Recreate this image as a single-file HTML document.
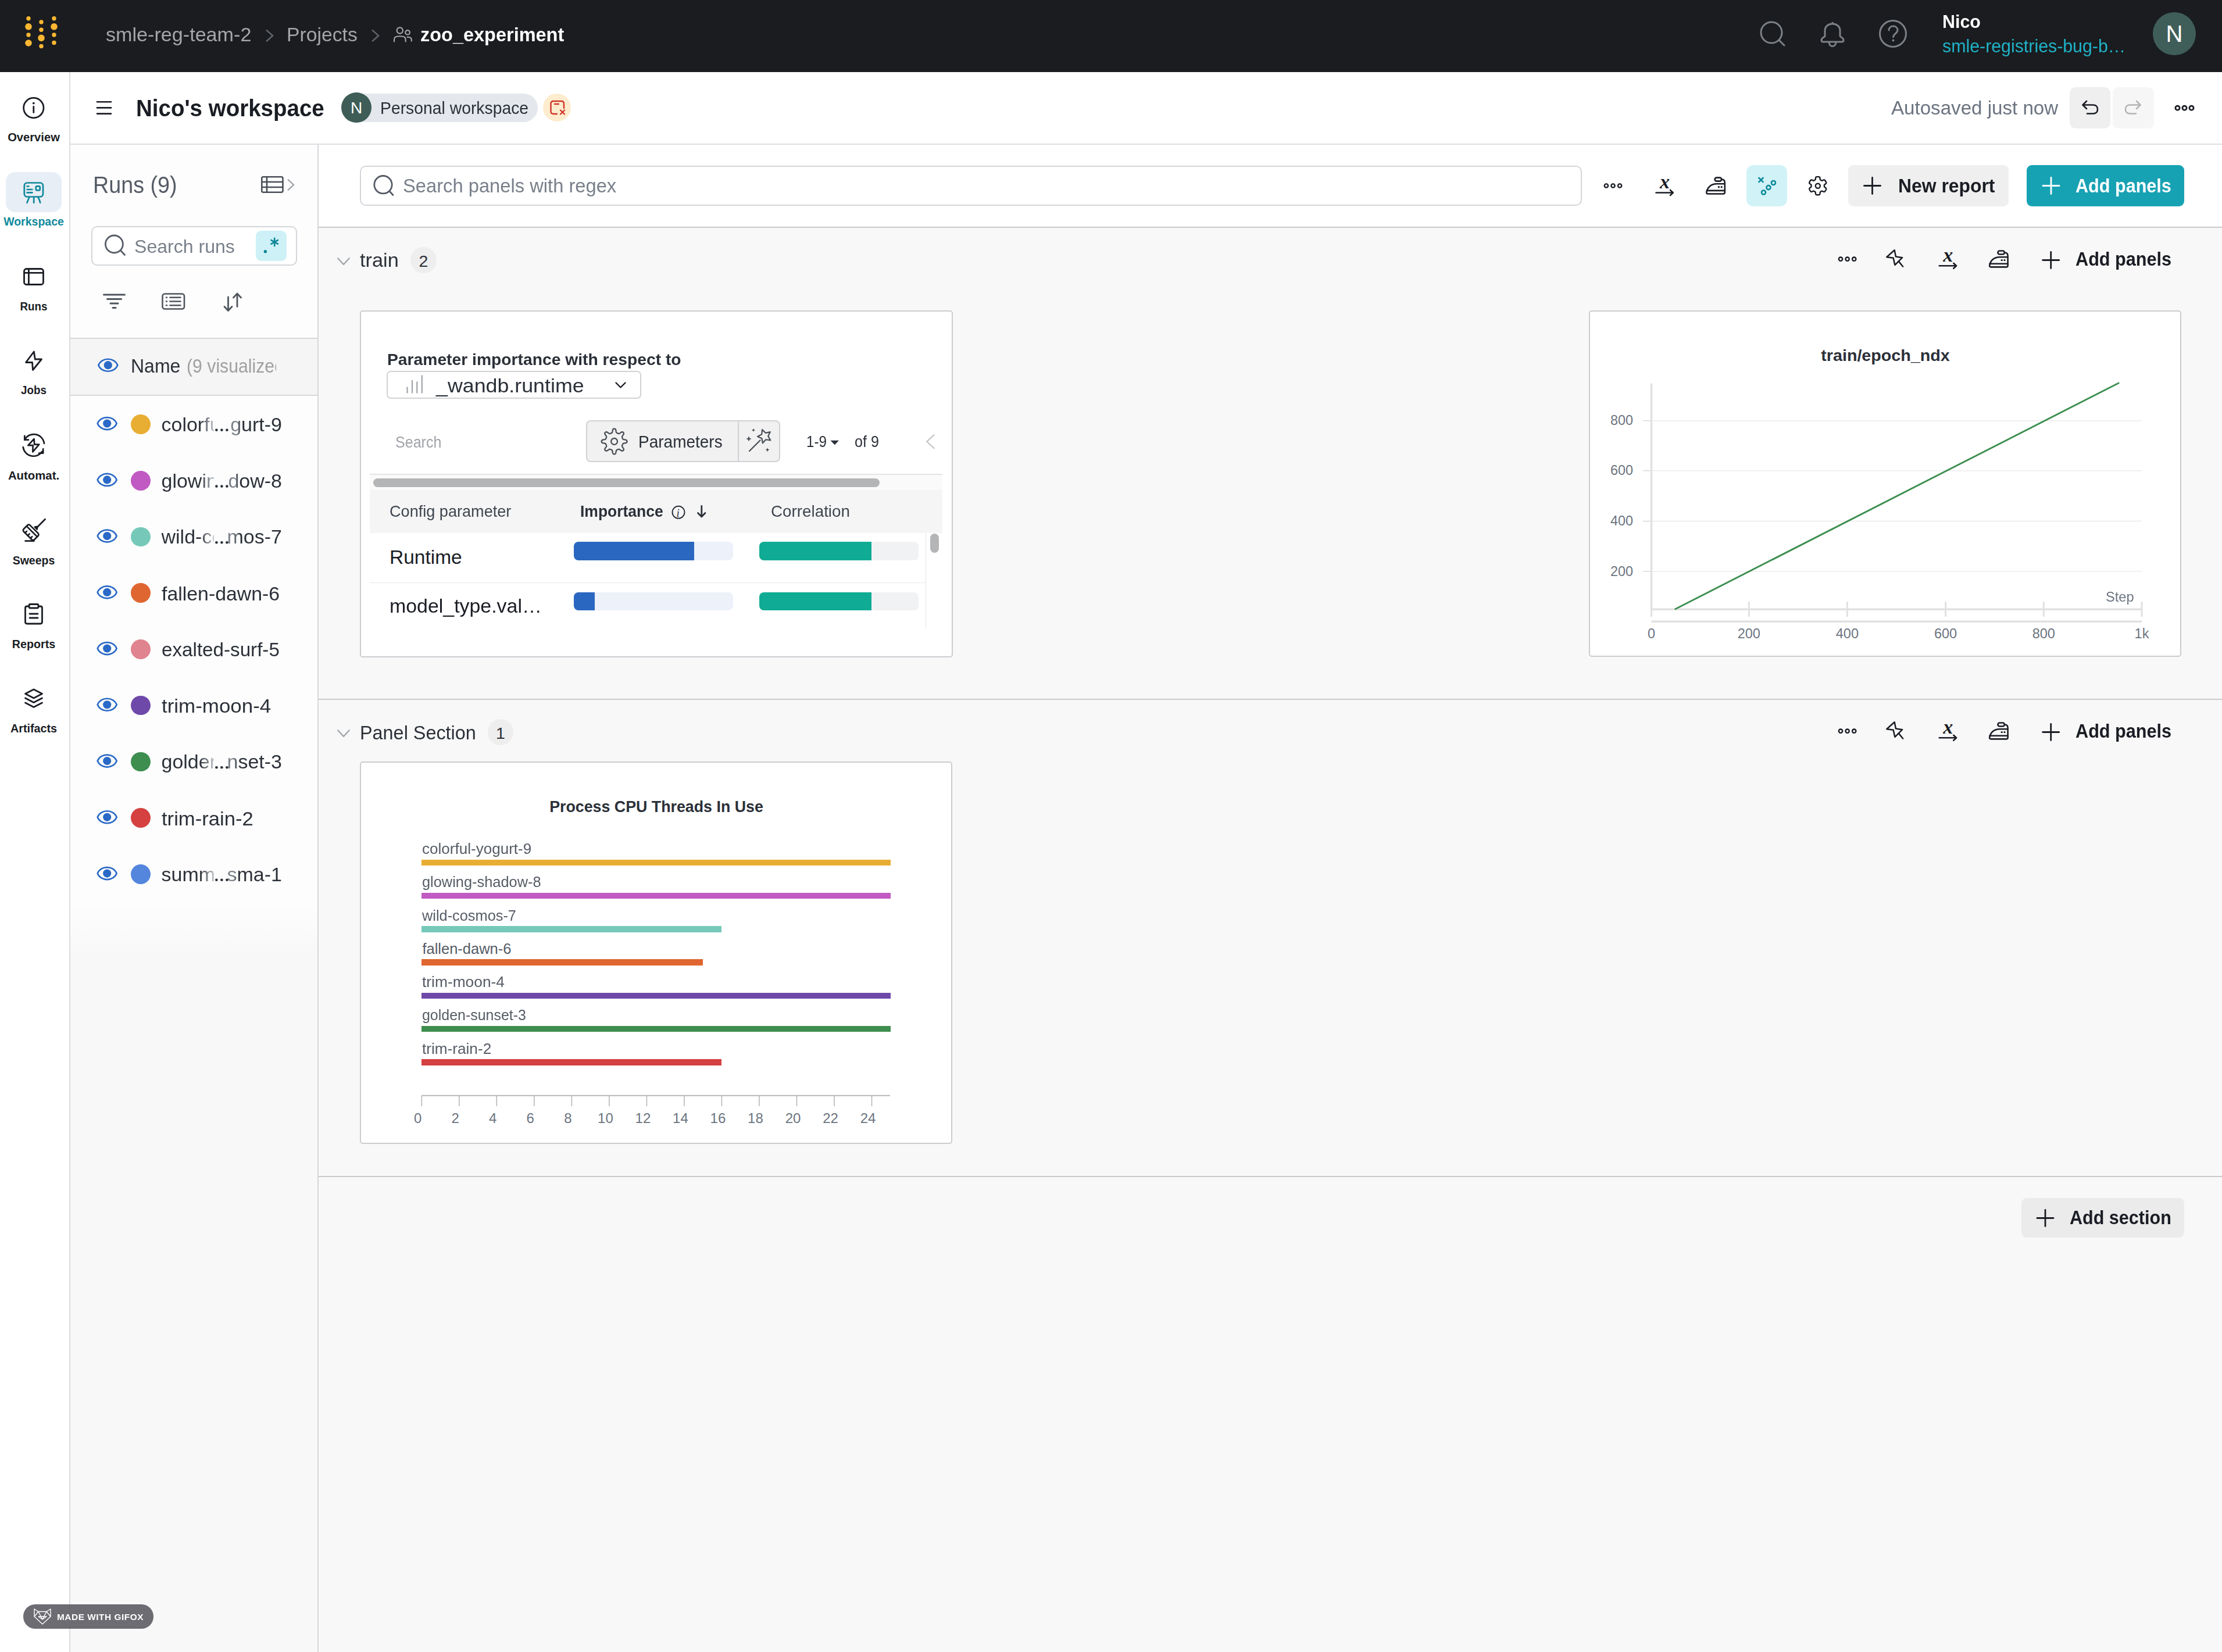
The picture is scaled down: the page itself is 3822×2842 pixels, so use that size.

<!DOCTYPE html>
<html><head><meta charset="utf-8"><title>Nico's workspace</title>
<style>
html,body{margin:0;padding:0;}
body{width:3822px;height:2842px;position:relative;overflow:hidden;background:#fdfdfd;font-family:"Liberation Sans", sans-serif;}
.r{position:absolute;display:block;}
.t{position:absolute;white-space:nowrap;display:block;}
svg.r{overflow:visible;}
</style></head><body>
<div class="r" style="left:0.0px;top:0.0px;width:3822.0px;height:124.0px;background:#1a1c1f;border-radius:0.0px;"></div>
<div class="r" style="left:0.0px;top:124.0px;width:3822.0px;height:2718.0px;background:#fdfdfd;border-radius:0.0px;"></div>
<div class="r" style="left:548.0px;top:249.0px;width:3274.0px;height:141.0px;background:#ffffff;border-radius:0.0px;"></div>
<div class="r" style="left:0.0px;top:124.0px;width:120.0px;height:2718.0px;background:#ffffff;border-radius:0.0px;"></div>
<div class="r" style="left:121.0px;top:124.0px;width:3701.0px;height:124.0px;background:#ffffff;border-radius:0.0px;"></div>
<div class="r" style="left:548.0px;top:392.0px;width:3274.0px;height:2450.0px;background:#f8f8f8;border-radius:0.0px;"></div>
<div class="r" style="left:121.0px;top:1560.0px;width:426.0px;height:1282.0px;background:linear-gradient(#fdfdfd 0px, #f8f8f8 80px);border-radius:0.0px;"></div>
<div class="r" style="left:119.3px;top:124.0px;width:2.0px;height:2718.0px;background:#dcdee2;border-radius:0.0px;"></div>
<div class="r" style="left:121.0px;top:247.0px;width:3701.0px;height:2.0px;background:#dcdee2;border-radius:0.0px;"></div>
<div class="r" style="left:546.0px;top:249.0px;width:2.0px;height:2593.0px;background:#d5d7da;border-radius:0.0px;"></div>
<div class="r" style="left:548.0px;top:390.0px;width:3274.0px;height:2.0px;background:#c9cacc;border-radius:0.0px;"></div>
<div class="r" style="left:548.0px;top:1202.0px;width:3274.0px;height:2.0px;background:#c9cacc;border-radius:0.0px;"></div>
<div class="r" style="left:548.0px;top:2022.5px;width:3274.0px;height:2.0px;background:#c9cacc;border-radius:0.0px;"></div>
<svg class="r" style="left:30.0px;top:20.0px;" width="80.0" height="70.0" viewBox="30.00 20.00 80.00 70.00"><circle cx="49.0" cy="31.8" r="3.7" fill="#fbb731"/><circle cx="49.0" cy="45.8" r="5.8" fill="#fbb731"/><circle cx="49.0" cy="60.0" r="3.7" fill="#fbb731"/><circle cx="49.0" cy="74.0" r="5.8" fill="#fbb731"/><circle cx="71.0" cy="38.0" r="3.7" fill="#fbb731"/><circle cx="71.0" cy="51.2" r="3.7" fill="#fbb731"/><circle cx="71.0" cy="65.4" r="5.8" fill="#fbb731"/><circle cx="71.0" cy="79.5" r="3.7" fill="#fbb731"/><circle cx="93.0" cy="31.8" r="3.7" fill="#fbb731"/><circle cx="93.0" cy="45.8" r="5.8" fill="#fbb731"/><circle cx="93.0" cy="60.0" r="3.7" fill="#fbb731"/><circle cx="93.0" cy="73.5" r="3.7" fill="#fbb731"/></svg>
<span id="t1" class="t" style="left:182.0px;top:41.6px;font-size:34.0px;line-height:34.0px;color:#a4a6a9;font-weight:400;transform:scaleX(1.0040);transform-origin:left;">smle-reg-team-2</span>
<svg class="r" style="left:452.0px;top:46.0px;" width="24.0" height="30.0" viewBox="452.00 46.00 24.00 30.00"><polyline points="458,51.5 469,61.4 458,71.3" fill="none" stroke="#5f6368" stroke-width="2.6"/></svg>
<span id="t2" class="t" style="left:493.0px;top:41.6px;font-size:34.0px;line-height:34.0px;color:#a4a6a9;font-weight:400;transform:scaleX(0.9919);transform-origin:left;">Projects</span>
<svg class="r" style="left:634.0px;top:46.0px;" width="24.0" height="30.0" viewBox="634.00 46.00 24.00 30.00"><polyline points="640,51.5 651,61.4 640,71.3" fill="none" stroke="#5f6368" stroke-width="2.6"/></svg>
<svg class="r" style="left:672.0px;top:42.0px;" width="42.0" height="34.0" viewBox="672.00 42.00 42.00 34.00"><g fill="none" stroke="#a4a6a9" stroke-width="2.2" stroke-linecap="round"><circle cx="687.8" cy="52.5" r="5.1"/><path d="M678 71.5 L678 68.5 C678 64.5 680.5 62.5 684.5 62.5 L691 62.5 C695 62.5 697.7 64.5 697.7 68.5 L697.7 71.5"/><circle cx="701.1" cy="55.9" r="3.8"/><path d="M700.5 64 L703 64 C706 64 707.8 66 707.8 69 L707.8 70.5"/></g></svg>
<span id="t3" class="t" style="left:722.6px;top:42.5px;font-size:33.0px;line-height:33.0px;color:#ffffff;font-weight:700;transform:scaleX(0.9841);transform-origin:left;">zoo_experiment</span>
<svg class="r" style="left:3020.0px;top:30.0px;" width="60.0" height="60.0" viewBox="3020.00 30.00 60.00 60.00"><g fill="none" stroke="#7d8187" stroke-width="3" stroke-linecap="round"><circle cx="3047" cy="56" r="18"/><line x1="3060" y1="69" x2="3069" y2="78"/></g></svg>
<svg class="r" style="left:3125.0px;top:30.0px;" width="55.0" height="60.0" viewBox="3125.00 30.00 55.00 60.00"><g fill="none" stroke="#7d8187" stroke-width="3" stroke-linejoin="round"><path d="M3152 38 L3152 41 M3139 62 L3139 53 C3139 45 3145 41 3152 41 C3159 41 3165 45 3165 53 L3165 62 C3165 64 3171 64.5 3171 69 C3171 71 3170 72 3168 72 L3136 72 C3134 72 3133 71 3133 69 C3133 64.5 3139 64 3139 62 Z"/><path d="M3146 72 C3146 77 3149 79.5 3152 79.5 C3155 79.5 3158 77 3158 72"/></g></svg>
<svg class="r" style="left:3230.0px;top:32.0px;" width="55.0" height="55.0" viewBox="3230.00 32.00 55.00 55.00"><g fill="none" stroke="#7d8187" stroke-width="3" stroke-linecap="round"><circle cx="3256" cy="58" r="22.5"/><path d="M3249 52 C3249 47.5 3252.5 45 3256.5 45 C3261 45 3264 48 3264 52 C3264 57 3257 58 3256.5 63.5"/></g><circle cx="3256.5" cy="69.5" r="2" fill="#7d8187"/></svg>
<span id="t4" class="t" style="left:3341.0px;top:20.9px;font-size:32.0px;line-height:32.0px;color:#ffffff;font-weight:700;transform:scaleX(0.9493);transform-origin:left;">Nico</span>
<span id="t5" class="t" style="left:3341.0px;top:64.3px;font-size:31.0px;line-height:31.0px;color:#1fb3c8;font-weight:400;transform:scaleX(0.9783);transform-origin:left;">smle-registries-bug-b…</span>
<div class="r" style="left:3702.7px;top:20.7px;width:74.6px;height:74.6px;background:#405e59;border-radius:50%;"></div>
<span id="t6" class="t" style="left:3740.0px;top:38.1px;font-size:40.0px;line-height:40.0px;color:#ffffff;font-weight:400;transform:translateX(-50%) scaleX(1.0000);transform-origin:center;">N</span>
<svg class="r" style="left:160.0px;top:168.0px;" width="36.0" height="34.0" viewBox="160.00 168.00 36.00 34.00"><g stroke="#1a1d24" stroke-width="2.6" stroke-linecap="round"><line x1="167" y1="175.2" x2="191" y2="175.2"/><line x1="167" y1="185.4" x2="191" y2="185.4"/><line x1="167" y1="195.6" x2="191" y2="195.6"/></g></svg>
<span id="t7" class="t" style="left:234.4px;top:166.1px;font-size:41.0px;line-height:41.0px;color:#1a1d24;font-weight:700;transform:scaleX(0.9391);transform-origin:left;">Nico's workspace</span>
<div class="r" style="left:613.0px;top:161.0px;width:312.0px;height:49.0px;background:#e4e7eb;border-radius:0 24.5px 24.5px 0;"></div>
<div class="r" style="left:587.0px;top:159.4px;width:52.0px;height:52.0px;background:#3e5d57;border-radius:50%;"></div>
<span id="t8" class="t" style="left:613.0px;top:172.3px;font-size:28.0px;line-height:28.0px;color:#ffffff;font-weight:400;transform:translateX(-50%) scaleX(1.0000);transform-origin:center;">N</span>
<span id="t9" class="t" style="left:654.0px;top:172.1px;font-size:29.0px;line-height:29.0px;color:#2b3038;font-weight:400;transform:scaleX(0.9770);transform-origin:left;">Personal workspace</span>
<div class="r" style="left:934.0px;top:161.4px;width:48.0px;height:48.0px;background:#fdeccd;border-radius:50%;"></div>
<svg class="r" style="left:940.0px;top:168.0px;" width="36.0" height="34.0" viewBox="940.00 168.00 36.00 34.00"><g fill="none" stroke="#d0342c" stroke-width="2.4" stroke-linecap="round"><path d="M958 196 L952 196 C949 196 947.5 194.5 947.5 191.5 L947.5 178.5 C947.5 175.5 949 174 952 174 L965.5 174 C968.5 174 970 175.5 970 178.5 L970 186"/><line x1="954" y1="179" x2="961" y2="179"/><line x1="964" y1="189.5" x2="971" y2="196.5"/><line x1="971" y1="189.5" x2="964" y2="196.5"/></g></svg>
<span id="t10" class="t" style="left:3253.4px;top:168.6px;font-size:33.0px;line-height:33.0px;color:#6b7480;font-weight:400;transform:scaleX(1.0035);transform-origin:left;">Autosaved just now</span>
<div class="r" style="left:3560.0px;top:150.0px;width:70.0px;height:70.5px;background:#efefef;border-radius:10.0px;"></div>
<div class="r" style="left:3634.0px;top:150.0px;width:71.0px;height:70.5px;background:#f6f6f6;border-radius:10.0px;"></div>
<svg class="r" style="left:3575.0px;top:165.0px;" width="40.0" height="40.0" viewBox="3575.00 165.00 40.00 40.00"><g transform="translate(-4,0)" fill="none" stroke="#1a1d24" stroke-width="2.6" stroke-linecap="round" stroke-linejoin="round"><path d="M3587 180.5 L3604 180.5 C3609 180.5 3612 183.5 3612 188 C3612 192.5 3609 195.5 3604 195.5 L3594 195.5"/><polyline points="3593,174 3586.5,180.5 3593,187"/></g></svg>
<svg class="r" style="left:3650.0px;top:165.0px;" width="40.0" height="40.0" viewBox="3650.00 165.00 40.00 40.00"><g fill="none" stroke="#b4b4b4" stroke-width="2.6" stroke-linecap="round" stroke-linejoin="round"><path d="M3681 180.5 L3664 180.5 C3659 180.5 3656 183.5 3656 188 C3656 192.5 3659 195.5 3664 195.5 L3674 195.5"/><polyline points="3675,174 3681.5,180.5 3675,187"/></g></svg>
<svg class="r" style="left:3735.0px;top:176.0px;" width="45.0" height="20.0" viewBox="3735.00 176.00 45.00 20.00"><g fill="none" stroke="#1a1d24" stroke-width="2.8"><circle cx="3745.5" cy="185.8" r="3.6"/><circle cx="3757.5" cy="185.8" r="3.6"/><circle cx="3769.5" cy="185.8" r="3.6"/></g></svg>
<div class="r" style="left:10.0px;top:296.0px;width:96.0px;height:69.0px;background:#e8eef6;border-radius:16.0px;"></div>
<span id="t11" class="t" style="left:57.8px;top:225.6px;font-size:20.5px;line-height:20.5px;color:#1a1d24;font-weight:700;transform:translateX(-50%) scaleX(0.9835);transform-origin:center;">Overview</span>
<span id="t12" class="t" style="left:57.8px;top:371.4px;font-size:20.5px;line-height:20.5px;color:#10899b;font-weight:700;transform:translateX(-50%) scaleX(0.9514);transform-origin:center;">Workspace</span>
<span id="t13" class="t" style="left:57.8px;top:516.6px;font-size:20.5px;line-height:20.5px;color:#1a1d24;font-weight:700;transform:translateX(-50%) scaleX(0.9137);transform-origin:center;">Runs</span>
<span id="t14" class="t" style="left:57.8px;top:661.3px;font-size:20.5px;line-height:20.5px;color:#1a1d24;font-weight:700;transform:translateX(-50%) scaleX(0.9167);transform-origin:center;">Jobs</span>
<span id="t15" class="t" style="left:57.8px;top:808.2px;font-size:20.5px;line-height:20.5px;color:#1a1d24;font-weight:700;transform:translateX(-50%) scaleX(0.9933);transform-origin:center;">Automat.</span>
<span id="t16" class="t" style="left:57.8px;top:953.6px;font-size:20.5px;line-height:20.5px;color:#1a1d24;font-weight:700;transform:translateX(-50%) scaleX(0.9526);transform-origin:center;">Sweeps</span>
<span id="t17" class="t" style="left:57.8px;top:1098.0px;font-size:20.5px;line-height:20.5px;color:#1a1d24;font-weight:700;transform:translateX(-50%) scaleX(0.9610);transform-origin:center;">Reports</span>
<span id="t18" class="t" style="left:57.8px;top:1242.6px;font-size:20.5px;line-height:20.5px;color:#1a1d24;font-weight:700;transform:translateX(-50%) scaleX(0.9639);transform-origin:center;">Artifacts</span>
<svg class="r" style="left:36.0px;top:164.0px;" width="44.0" height="44.0" viewBox="36.00 164.00 44.00 44.00"><g fill="none" stroke="#1a1d24" stroke-width="2.8" stroke-linecap="round"><circle cx="57.8" cy="185.6" r="17.2"/><line x1="57.8" y1="183.5" x2="57.8" y2="193.5"/></g><circle cx="57.8" cy="177.6" r="1.9" fill="#1a1d24"/></svg>
<svg class="r" style="left:36.0px;top:309.0px;" width="44.0" height="44.0" viewBox="36.00 309.00 44.00 44.00"><g fill="none" stroke="#10899b" stroke-width="2.7" stroke-linecap="round" stroke-linejoin="round"><rect x="41.8" y="314.5" width="32.2" height="24" rx="5"/><line x1="46.6" y1="320.5" x2="49.4" y2="320.5"/><line x1="46.6" y1="326" x2="55.4" y2="326"/><line x1="46.6" y1="331.4" x2="55.4" y2="331.4"/><rect x="61.8" y="320.4" width="6.9" height="6.9" rx="1.6"/><line x1="50.3" y1="339.5" x2="46.4" y2="348.8"/><line x1="58.2" y1="339.5" x2="58.2" y2="348.8"/><path d="M65.6 339.5 C67 342 68.6 345 69.2 348.8"/></g></svg>
<svg class="r" style="left:36.0px;top:456.0px;" width="44.0" height="40.0" viewBox="36.00 456.00 44.00 40.00"><g fill="none" stroke="#1a1d24" stroke-width="2.8" stroke-linejoin="round"><rect x="41.5" y="462.5" width="33" height="27" rx="4"/><line x1="41.5" y1="469.4" x2="74.5" y2="469.4"/><line x1="49.4" y1="462.5" x2="49.4" y2="489.5"/></g></svg>
<svg class="r" style="left:38.0px;top:600.0px;" width="40.0" height="42.0" viewBox="38.00 600.00 40.00 42.00"><path d="M58.4 605 L44.5 623.5 L55.5 623.5 L56.5 636.5 L71.5 618 L60.3 618 Z" fill="none" stroke="#1a1d24" stroke-width="2.8" stroke-linejoin="round"/></svg>
<svg class="r" style="left:34.0px;top:742.0px;" width="48.0" height="48.0" viewBox="34.00 742.00 48.00 48.00"><g fill="none" stroke="#1a1d24" stroke-width="2.7" stroke-linecap="round" stroke-linejoin="round"><path d="M42.3 756.5 A18 18 0 0 1 76 763"/><polyline points="42.3,749.8 42.3,756.7 49,756.7"/><path d="M39.7 769 A18 18 0 0 0 72.6 776.6"/><polyline points="74.2,772.3 74.2,779.6 67,779.6"/><path d="M58.6 755 L48.4 766.2 L56.6 766.2 L56.4 777.4 L67.2 764.6 L59.2 764.6 Z"/></g></svg>
<svg class="r" style="left:32.0px;top:888.0px;" width="52.0" height="48.0" viewBox="32.00 888.00 52.00 48.00"><g fill="none" stroke="#1a1d24" stroke-width="2.7" stroke-linecap="round" stroke-linejoin="round"><line x1="77.6" y1="893.2" x2="64" y2="907"/><path d="M59.8 906.6 L64.3 905.9 L63.7 910.6 Z"/><g transform="rotate(45 53.15 915.95)"><rect x="40.20" y="908.25" width="25.9" height="15.4" rx="3.2"/><line x1="40.20" y1="913.55" x2="66.10" y2="913.55"/><line x1="46.65" y1="923.65" x2="46.65" y2="919.55"/><line x1="53.15" y1="923.65" x2="53.15" y2="919.55"/><line x1="59.65" y1="923.65" x2="59.65" y2="919.55"/></g><line x1="43.5" y1="930.6" x2="58.5" y2="930.6"/></g></svg>
<svg class="r" style="left:38.0px;top:1034.0px;" width="40.0" height="44.0" viewBox="38.00 1034.00 40.00 44.00"><g fill="none" stroke="#1a1d24" stroke-width="2.8" stroke-linecap="round" stroke-linejoin="round"><path d="M50 1043 L46.5 1043 C44.5 1043 43.5 1044 43.5 1046 L43.5 1070 C43.5 1072 44.5 1073 46.5 1073 L69.5 1073 C71.5 1073 72.5 1072 72.5 1070 L72.5 1046 C72.5 1044 71.5 1043 69.5 1043 L66 1043"/><rect x="50" y="1039.5" width="16" height="6.5" rx="2"/><line x1="51" y1="1056" x2="65" y2="1056"/><line x1="51" y1="1063" x2="65" y2="1063"/></g></svg>
<svg class="r" style="left:38.0px;top:1180.0px;" width="40.0" height="44.0" viewBox="38.00 1180.00 40.00 44.00"><g fill="none" stroke="#1a1d24" stroke-width="2.8" stroke-linecap="round" stroke-linejoin="round"><path d="M58 1186 L72.5 1193.5 L58 1201 L43.5 1193.5 Z"/><path d="M43.5 1201 L58 1208.5 L72.5 1201"/><path d="M43.5 1209 L58 1216.5 L72.5 1209"/></g></svg>
<span id="t19" class="t" style="left:159.7px;top:298.4px;font-size:40.0px;line-height:40.0px;color:#565c66;font-weight:400;transform:scaleX(0.9425);transform-origin:left;">Runs (9)</span>
<svg class="r" style="left:444.0px;top:298.0px;" width="68.0" height="40.0" viewBox="444.00 298.00 68.00 40.00"><g fill="none" stroke="#4a5058" stroke-width="2.6" stroke-linejoin="round"><rect x="450.3" y="304.3" width="36.2" height="26.4" rx="2.5"/><line x1="450.3" y1="313" x2="486.5" y2="313"/><line x1="450.3" y1="322" x2="486.5" y2="322"/><line x1="459" y1="304.3" x2="459" y2="330.7"/></g><polyline points="495,308.5 505,318 495,327.5" fill="none" stroke="#9a9ea4" stroke-width="2.2"/></svg>
<div class="r" style="left:157.0px;top:389.0px;width:354.0px;height:68.0px;background:#ffffff;border-radius:10.0px;border:2px solid #d3d6da;box-sizing:border-box;"></div>
<svg class="r" style="left:176.0px;top:400.0px;" width="44.0" height="44.0" viewBox="176.00 400.00 44.00 44.00"><g fill="none" stroke="#565c66" stroke-width="2.8" stroke-linecap="round"><circle cx="196.4" cy="420" r="15"/><line x1="207.5" y1="431" x2="214.5" y2="438.5"/></g></svg>
<span id="t20" class="t" style="left:230.7px;top:407.7px;font-size:32.0px;line-height:32.0px;color:#79808a;font-weight:400;transform:scaleX(1.0017);transform-origin:left;">Search runs</span>
<div class="r" style="left:440.3px;top:397.0px;width:52.7px;height:52.0px;background:#cdf1f6;border-radius:9.0px;"></div>
<svg class="r" style="left:448.0px;top:404.0px;" width="34.0" height="36.0" viewBox="448.00 404.00 34.00 36.00"><circle cx="456.4" cy="432.8" r="2.7" fill="#0a8597"/><g stroke="#0a8597" stroke-width="2.6" stroke-linecap="round"><line x1="472.20" y1="423.00" x2="472.20" y2="409.80"/><line x1="477.92" y1="419.70" x2="466.48" y2="413.10"/><line x1="466.48" y1="419.70" x2="477.92" y2="413.10"/></g></svg>
<svg class="r" style="left:172.0px;top:500.0px;" width="50.0" height="36.0" viewBox="172.00 500.00 50.00 36.00"><g stroke="#4f555d" stroke-width="3" stroke-linecap="round"><line x1="178.5" y1="507" x2="214.5" y2="507"/><line x1="184.5" y1="514.5" x2="208.5" y2="514.5"/><line x1="190" y1="522" x2="203" y2="522"/><line x1="194" y1="529.5" x2="199" y2="529.5"/></g></svg>
<svg class="r" style="left:274.0px;top:500.0px;" width="48.0" height="38.0" viewBox="274.00 500.00 48.00 38.00"><g fill="none" stroke="#4f555d" stroke-width="2.6" stroke-linecap="round"><rect x="279.5" y="505.5" width="37.5" height="26" rx="4"/><line x1="286" y1="511.8" x2="287" y2="511.8"/><line x1="292.5" y1="511.8" x2="310.5" y2="511.8"/><line x1="286" y1="518.5" x2="287" y2="518.5"/><line x1="292.5" y1="518.5" x2="310.5" y2="518.5"/><line x1="286" y1="525.2" x2="287" y2="525.2"/><line x1="292.5" y1="525.2" x2="310.5" y2="525.2"/></g></svg>
<svg class="r" style="left:384.0px;top:500.0px;" width="32.0" height="40.0" viewBox="384.00 500.00 32.00 40.00"><g fill="none" stroke="#4f555d" stroke-width="2.8" stroke-linecap="round" stroke-linejoin="round"><line x1="392.5" y1="511" x2="392.5" y2="534"/><polyline points="386,527.5 392.5,534.5 399,527.5"/><line x1="408" y1="505.5" x2="408" y2="527.5"/><polyline points="401.5,512 408,505 414.5,512"/></g></svg>
<div class="r" style="left:121.0px;top:580.5px;width:425.0px;height:2.0px;background:#d6d7d9;border-radius:0.0px;"></div>
<div class="r" style="left:121.0px;top:582.5px;width:425.0px;height:96.0px;background:#f5f5f6;border-radius:0.0px;"></div>
<div class="r" style="left:121.0px;top:678.5px;width:425.0px;height:2.0px;background:#d6d7d9;border-radius:0.0px;"></div>
<span id="t21" class="t" style="left:224.9px;top:614.4px;font-size:32.5px;line-height:32.5px;color:#2b3038;font-weight:400;transform:scaleX(0.9851);transform-origin:left;">Name</span>
<div class="r" style="left:321px;top:600px;width:154px;height:60px;overflow:hidden"><span id="tname" class="t" style="left:0;top:14.4px;font-size:32.5px;line-height:32.5px;color:#a0a0a0;white-space:nowrap;transform:scaleX(0.9300);transform-origin:left;">(9 visualized)</span></div>
<div class="r" style="left:225.1px;top:713.0px;width:33.8px;height:33.8px;background:#e8ae33;border-radius:50%;"></div>
<div class="r" style="left:277.5px;top:706.2px;width:90.5px;height:48px;overflow:hidden"><span class="t" style="left:0;top:-1.3px;font-size:34.0px;line-height:51.0px;transform:scaleX(1.000);transform-origin:left;color:transparent;-webkit-background-clip:text;background-clip:text;background-image:linear-gradient(to right, #2b3038 0px, #2b3038 66px, #c4c8cc 90px)">colorful-yogurt-9</span></div>
<span class="t" style="left:485px;top:704.9px;font-size:34.0px;line-height:51.0px;transform:translateX(-100%) scaleX(1.000);transform-origin:right;color:transparent;-webkit-background-clip:text;background-clip:text;background-image:linear-gradient(to right, #7d838b 0px, #7d838b 12px, #2b3038 20px)">gurt-9</span>
<div class="r" style="left:225.1px;top:809.8px;width:33.8px;height:33.8px;background:#c15ac3;border-radius:50%;"></div>
<div class="r" style="left:277.5px;top:803.0px;width:90.5px;height:48px;overflow:hidden"><span class="t" style="left:0;top:-1.3px;font-size:34.0px;line-height:51.0px;transform:scaleX(1.000);transform-origin:left;color:transparent;-webkit-background-clip:text;background-clip:text;background-image:linear-gradient(to right, #2b3038 0px, #2b3038 66px, #c4c8cc 90px)">glowing-shadow-8</span></div>
<span class="t" style="left:485px;top:801.7px;font-size:34.0px;line-height:51.0px;transform:translateX(-100%) scaleX(1.000);transform-origin:right;color:transparent;-webkit-background-clip:text;background-clip:text;background-image:linear-gradient(to right, #7d838b 0px, #7d838b 12px, #2b3038 20px)">dow-8</span>
<div class="r" style="left:225.1px;top:906.5px;width:33.8px;height:33.8px;background:#76c9b9;border-radius:50%;"></div>
<div class="r" style="left:277.5px;top:899.7px;width:90.5px;height:48px;overflow:hidden"><span class="t" style="left:0;top:-1.3px;font-size:34.0px;line-height:51.0px;transform:scaleX(1.000);transform-origin:left;color:transparent;-webkit-background-clip:text;background-clip:text;background-image:linear-gradient(to right, #2b3038 0px, #2b3038 66px, #c4c8cc 90px)">wild-cosmos-7</span></div>
<span class="t" style="left:485px;top:898.4px;font-size:34.0px;line-height:51.0px;transform:translateX(-100%) scaleX(1.000);transform-origin:right;color:transparent;-webkit-background-clip:text;background-clip:text;background-image:linear-gradient(to right, #7d838b 0px, #7d838b 12px, #2b3038 20px)">mos-7</span>
<div class="r" style="left:225.1px;top:1003.2px;width:33.8px;height:33.8px;background:#e06631;border-radius:50%;"></div>
<span id="t22" class="t" style="left:277.5px;top:1003.7px;font-size:34.0px;line-height:34.0px;color:#2b3038;font-weight:400;transform:scaleX(0.9951);transform-origin:left;">fallen-dawn-6</span>
<div class="r" style="left:225.1px;top:1100.0px;width:33.8px;height:33.8px;background:#e0848f;border-radius:50%;"></div>
<span id="t23" class="t" style="left:277.5px;top:1100.4px;font-size:34.0px;line-height:34.0px;color:#2b3038;font-weight:400;transform:scaleX(0.9760);transform-origin:left;">exalted-surf-5</span>
<div class="r" style="left:225.1px;top:1196.7px;width:33.8px;height:33.8px;background:#6f49a9;border-radius:50%;"></div>
<span id="t24" class="t" style="left:277.5px;top:1197.2px;font-size:34.0px;line-height:34.0px;color:#2b3038;font-weight:400;transform:scaleX(1.0273);transform-origin:left;">trim-moon-4</span>
<div class="r" style="left:225.1px;top:1293.5px;width:33.8px;height:33.8px;background:#3e8e50;border-radius:50%;"></div>
<div class="r" style="left:277.5px;top:1286.7px;width:90.5px;height:48px;overflow:hidden"><span class="t" style="left:0;top:-1.3px;font-size:34.0px;line-height:51.0px;transform:scaleX(1.000);transform-origin:left;color:transparent;-webkit-background-clip:text;background-clip:text;background-image:linear-gradient(to right, #2b3038 0px, #2b3038 66px, #c4c8cc 90px)">golden-sunset-3</span></div>
<span class="t" style="left:485px;top:1285.4px;font-size:34.0px;line-height:51.0px;transform:translateX(-100%) scaleX(1.000);transform-origin:right;color:transparent;-webkit-background-clip:text;background-clip:text;background-image:linear-gradient(to right, #7d838b 0px, #7d838b 12px, #2b3038 20px)">nset-3</span>
<div class="r" style="left:225.1px;top:1390.2px;width:33.8px;height:33.8px;background:#d54141;border-radius:50%;"></div>
<span id="t25" class="t" style="left:277.5px;top:1390.7px;font-size:34.0px;line-height:34.0px;color:#2b3038;font-weight:400;transform:scaleX(1.0181);transform-origin:left;">trim-rain-2</span>
<div class="r" style="left:225.1px;top:1487.0px;width:33.8px;height:33.8px;background:#5486dd;border-radius:50%;"></div>
<div class="r" style="left:277.5px;top:1480.2px;width:90.5px;height:48px;overflow:hidden"><span class="t" style="left:0;top:-1.3px;font-size:34.0px;line-height:51.0px;transform:scaleX(1.000);transform-origin:left;color:transparent;-webkit-background-clip:text;background-clip:text;background-image:linear-gradient(to right, #2b3038 0px, #2b3038 66px, #c4c8cc 90px)">summer-plasma-1</span></div>
<span class="t" style="left:485px;top:1478.9px;font-size:34.0px;line-height:51.0px;transform:translateX(-100%) scaleX(1.000);transform-origin:right;color:transparent;-webkit-background-clip:text;background-clip:text;background-image:linear-gradient(to right, #7d838b 0px, #7d838b 12px, #2b3038 20px)">sma-1</span>
<svg class="r" style="left:0;top:0" width="3822" height="2842" viewBox="0 0 3822 2842"><path d="M169.3 628.2 C174.8 614.2 196.8 614.2 202.3 628.2 C196.8 642.2 174.8 642.2 169.3 628.2 Z" fill="none" stroke="#2a69c7" stroke-width="2.6"/><circle cx="185.8" cy="628.2" r="7.1" fill="#2a69c7"/><path d="M167.7 728.6 C173.2 714.6 195.2 714.6 200.7 728.6 C195.2 742.6 173.2 742.6 167.7 728.6 Z" fill="none" stroke="#2a69c7" stroke-width="2.6"/><circle cx="184.2" cy="728.6" r="7.1" fill="#2a69c7"/><circle cx="372.4" cy="739.8" r="2.3" fill="#2b3038"/><circle cx="381.4" cy="739.8" r="2.3" fill="#2b3038"/><circle cx="390.4" cy="739.8" r="2.3" fill="#2b3038"/><path d="M167.7 825.4 C173.2 811.4 195.2 811.4 200.7 825.4 C195.2 839.4 173.2 839.4 167.7 825.4 Z" fill="none" stroke="#2a69c7" stroke-width="2.6"/><circle cx="184.2" cy="825.4" r="7.1" fill="#2a69c7"/><circle cx="372.4" cy="836.6" r="2.3" fill="#2b3038"/><circle cx="381.4" cy="836.6" r="2.3" fill="#2b3038"/><circle cx="390.4" cy="836.6" r="2.3" fill="#2b3038"/><path d="M167.7 922.1 C173.2 908.1 195.2 908.1 200.7 922.1 C195.2 936.1 173.2 936.1 167.7 922.1 Z" fill="none" stroke="#2a69c7" stroke-width="2.6"/><circle cx="184.2" cy="922.1" r="7.1" fill="#2a69c7"/><circle cx="372.4" cy="933.3" r="2.3" fill="#2b3038"/><circle cx="381.4" cy="933.3" r="2.3" fill="#2b3038"/><circle cx="390.4" cy="933.3" r="2.3" fill="#2b3038"/><path d="M167.7 1018.9 C173.2 1004.9 195.2 1004.9 200.7 1018.9 C195.2 1032.8 173.2 1032.8 167.7 1018.9 Z" fill="none" stroke="#2a69c7" stroke-width="2.6"/><circle cx="184.2" cy="1018.9" r="7.1" fill="#2a69c7"/><path d="M167.7 1115.6 C173.2 1101.6 195.2 1101.6 200.7 1115.6 C195.2 1129.6 173.2 1129.6 167.7 1115.6 Z" fill="none" stroke="#2a69c7" stroke-width="2.6"/><circle cx="184.2" cy="1115.6" r="7.1" fill="#2a69c7"/><path d="M167.7 1212.3 C173.2 1198.3 195.2 1198.3 200.7 1212.3 C195.2 1226.3 173.2 1226.3 167.7 1212.3 Z" fill="none" stroke="#2a69c7" stroke-width="2.6"/><circle cx="184.2" cy="1212.3" r="7.1" fill="#2a69c7"/><path d="M167.7 1309.1 C173.2 1295.1 195.2 1295.1 200.7 1309.1 C195.2 1323.1 173.2 1323.1 167.7 1309.1 Z" fill="none" stroke="#2a69c7" stroke-width="2.6"/><circle cx="184.2" cy="1309.1" r="7.1" fill="#2a69c7"/><circle cx="372.4" cy="1320.3" r="2.3" fill="#2b3038"/><circle cx="381.4" cy="1320.3" r="2.3" fill="#2b3038"/><circle cx="390.4" cy="1320.3" r="2.3" fill="#2b3038"/><path d="M167.7 1405.8 C173.2 1391.8 195.2 1391.8 200.7 1405.8 C195.2 1419.8 173.2 1419.8 167.7 1405.8 Z" fill="none" stroke="#2a69c7" stroke-width="2.6"/><circle cx="184.2" cy="1405.8" r="7.1" fill="#2a69c7"/><path d="M167.7 1502.6 C173.2 1488.6 195.2 1488.6 200.7 1502.6 C195.2 1516.6 173.2 1516.6 167.7 1502.6 Z" fill="none" stroke="#2a69c7" stroke-width="2.6"/><circle cx="184.2" cy="1502.6" r="7.1" fill="#2a69c7"/><circle cx="372.4" cy="1513.8" r="2.3" fill="#2b3038"/><circle cx="381.4" cy="1513.8" r="2.3" fill="#2b3038"/><circle cx="390.4" cy="1513.8" r="2.3" fill="#2b3038"/></svg>
<div class="r" style="left:619.0px;top:285.0px;width:2102.0px;height:69.0px;background:#ffffff;border-radius:10.0px;border:2px solid #d3d6da;box-sizing:border-box;"></div>
<svg class="r" style="left:638.0px;top:297.0px;" width="44.0" height="44.0" viewBox="638.00 297.00 44.00 44.00"><g fill="none" stroke="#565c66" stroke-width="2.8" stroke-linecap="round"><circle cx="659" cy="317.7" r="15.2"/><line x1="670" y1="329" x2="676" y2="335.5"/></g></svg>
<span id="t26" class="t" style="left:692.7px;top:303.9px;font-size:32.5px;line-height:32.5px;color:#79808a;font-weight:400;transform:scaleX(1.0063);transform-origin:left;">Search panels with regex</span>
<div class="r" style="left:3003.6px;top:284.0px;width:70.2px;height:70.8px;background:#d1f2f7;border-radius:12.0px;"></div>
<div class="r" style="left:3179.4px;top:284.0px;width:275.6px;height:71.0px;background:#efefef;border-radius:9.0px;"></div>
<div class="r" style="left:3486.0px;top:284.0px;width:271.4px;height:71.0px;background:#17a2b4;border-radius:9.0px;"></div>
<svg class="r" style="left:0;top:0" width="3822" height="2842" viewBox="0 0 3822 2842"><g fill="none" stroke="#1a1d24" stroke-width="2.4"><circle cx="2762.9" cy="319.5" r="3.15"/><circle cx="2774.5" cy="319.5" r="3.15"/><circle cx="2786.1" cy="319.5" r="3.15"/></g><text x="2863.5" y="324.3" text-anchor="middle" font-family="Liberation Serif" font-style="italic" font-weight="700" font-size="34" fill="#1a1d24">x</text><g fill="none" stroke="#1a1d24" stroke-width="2.6" stroke-linecap="round" stroke-linejoin="round"><line x1="2848.5" y1="331.5" x2="2877.5" y2="331.5"/><polyline points="2873.0,327.0 2877.7,331.5 2873.0,336.0"/></g><g fill="none" stroke="#1a1d24" stroke-width="2.6" stroke-linecap="round" stroke-linejoin="round"><rect x="2949.6" y="305.6" width="11.5" height="6" rx="3"/><path d="M2961.1 308.6 C2964.8 308.6 2966.8 310.3 2966.8 314.3 L2966.8 331.1 C2966.8 332.6 2965.8 333.5 2964.3 333.5 L2937.8 333.5 C2936.0 333.5 2935.1 332.5 2935.4 330.8 C2936.8 321.8 2943.8 316.3 2952.8 316.3 L2966.8 316.3"/><line x1="2935.8" y1="327.9" x2="2966.8" y2="327.9"/></g><circle cx="2956.4" cy="321.7" r="1.7" fill="#1a1d24"/><circle cx="2961.2" cy="321.7" r="1.7" fill="#1a1d24"/><g fill="none" stroke="#0b8a9c" stroke-width="2.6" stroke-linecap="round"><line x1="3025.4" y1="306" x2="3032.6" y2="313.2"/><line x1="3032.6" y1="306" x2="3025.4" y2="313.2"/><circle cx="3033.5" cy="331" r="3.5"/><circle cx="3041.9" cy="322.6" r="3.5"/><circle cx="3050.4" cy="314.5" r="3.5"/></g><g fill="none" stroke="#1a1d24" stroke-width="2.4" stroke-linejoin="round"><path d="M3137.90 319.70 L3137.90 319.90 L3137.90 320.09 L3137.90 320.29 L3137.90 320.48 L3137.90 320.68 L3137.91 320.88 L3137.94 321.08 L3137.99 321.29 L3138.10 321.51 L3138.28 321.74 L3138.56 322.01 L3138.97 322.31 L3139.48 322.65 L3140.01 323.02 L3140.49 323.39 L3140.84 323.76 L3141.07 324.09 L3141.19 324.41 L3141.24 324.71 L3141.23 324.99 L3141.18 325.26 L3141.11 325.52 L3141.03 325.78 L3140.93 326.04 L3140.83 326.29 L3140.71 326.54 L3140.60 326.78 L3140.47 327.02 L3140.34 327.26 L3140.21 327.50 L3140.07 327.73 L3139.93 327.97 L3139.78 328.19 L3139.63 328.42 L3139.47 328.64 L3139.30 328.86 L3139.13 329.07 L3138.95 329.27 L3138.75 329.46 L3138.54 329.64 L3138.30 329.79 L3138.03 329.90 L3137.69 329.95 L3137.28 329.92 L3136.79 329.79 L3136.23 329.57 L3135.64 329.29 L3135.09 329.02 L3134.63 328.82 L3134.26 328.71 L3133.96 328.67 L3133.72 328.69 L3133.51 328.74 L3133.33 328.82 L3133.15 328.91 L3132.98 329.01 L3132.81 329.10 L3132.64 329.20 L3132.47 329.30 L3132.30 329.40 L3132.13 329.50 L3131.96 329.59 L3131.79 329.69 L3131.62 329.79 L3131.45 329.89 L3131.28 330.00 L3131.12 330.12 L3130.97 330.27 L3130.84 330.47 L3130.72 330.75 L3130.63 331.13 L3130.58 331.63 L3130.53 332.24 L3130.48 332.89 L3130.39 333.49 L3130.26 333.98 L3130.08 334.35 L3129.87 334.61 L3129.63 334.79 L3129.38 334.92 L3129.13 335.02 L3128.86 335.09 L3128.60 335.15 L3128.33 335.19 L3128.06 335.23 L3127.79 335.25 L3127.52 335.27 L3127.24 335.29 L3126.97 335.30 L3126.70 335.30 L3126.43 335.30 L3126.16 335.29 L3125.88 335.27 L3125.61 335.25 L3125.34 335.23 L3125.07 335.19 L3124.80 335.15 L3124.54 335.09 L3124.27 335.02 L3124.02 334.92 L3123.77 334.79 L3123.53 334.61 L3123.32 334.35 L3123.14 333.98 L3123.01 333.49 L3122.92 332.89 L3122.87 332.24 L3122.82 331.63 L3122.77 331.13 L3122.68 330.75 L3122.56 330.47 L3122.43 330.27 L3122.28 330.12 L3122.12 330.00 L3121.95 329.89 L3121.78 329.79 L3121.61 329.69 L3121.44 329.59 L3121.27 329.50 L3121.10 329.40 L3120.93 329.30 L3120.76 329.20 L3120.59 329.10 L3120.42 329.01 L3120.25 328.91 L3120.07 328.82 L3119.89 328.74 L3119.68 328.69 L3119.44 328.67 L3119.14 328.71 L3118.77 328.82 L3118.31 329.02 L3117.76 329.29 L3117.17 329.57 L3116.61 329.79 L3116.12 329.92 L3115.71 329.95 L3115.37 329.90 L3115.10 329.79 L3114.86 329.64 L3114.65 329.46 L3114.45 329.27 L3114.27 329.07 L3114.10 328.86 L3113.93 328.64 L3113.77 328.42 L3113.62 328.19 L3113.47 327.97 L3113.33 327.73 L3113.19 327.50 L3113.06 327.26 L3112.93 327.02 L3112.80 326.78 L3112.69 326.54 L3112.57 326.29 L3112.47 326.04 L3112.37 325.78 L3112.29 325.52 L3112.22 325.26 L3112.17 324.99 L3112.16 324.71 L3112.21 324.41 L3112.33 324.09 L3112.56 323.76 L3112.91 323.39 L3113.39 323.02 L3113.92 322.65 L3114.43 322.31 L3114.84 322.01 L3115.12 321.74 L3115.30 321.51 L3115.41 321.29 L3115.46 321.08 L3115.49 320.88 L3115.50 320.68 L3115.50 320.48 L3115.50 320.29 L3115.50 320.09 L3115.50 319.90 L3115.50 319.70 L3115.50 319.50 L3115.50 319.31 L3115.50 319.11 L3115.50 318.92 L3115.50 318.72 L3115.49 318.52 L3115.46 318.32 L3115.41 318.11 L3115.30 317.89 L3115.12 317.66 L3114.84 317.39 L3114.43 317.09 L3113.92 316.75 L3113.39 316.38 L3112.91 316.01 L3112.56 315.64 L3112.33 315.31 L3112.21 314.99 L3112.16 314.69 L3112.17 314.41 L3112.22 314.14 L3112.29 313.88 L3112.37 313.62 L3112.47 313.36 L3112.57 313.11 L3112.69 312.86 L3112.80 312.62 L3112.93 312.38 L3113.06 312.14 L3113.19 311.90 L3113.33 311.67 L3113.47 311.43 L3113.62 311.21 L3113.77 310.98 L3113.93 310.76 L3114.10 310.54 L3114.27 310.33 L3114.45 310.13 L3114.65 309.94 L3114.86 309.76 L3115.10 309.61 L3115.37 309.50 L3115.71 309.45 L3116.12 309.48 L3116.61 309.61 L3117.17 309.83 L3117.76 310.11 L3118.31 310.38 L3118.77 310.58 L3119.14 310.69 L3119.44 310.73 L3119.68 310.71 L3119.89 310.66 L3120.07 310.58 L3120.25 310.49 L3120.42 310.39 L3120.59 310.30 L3120.76 310.20 L3120.93 310.10 L3121.10 310.00 L3121.27 309.90 L3121.44 309.81 L3121.61 309.71 L3121.78 309.61 L3121.95 309.51 L3122.12 309.40 L3122.28 309.28 L3122.43 309.13 L3122.56 308.93 L3122.68 308.65 L3122.77 308.27 L3122.82 307.77 L3122.87 307.16 L3122.92 306.51 L3123.01 305.91 L3123.14 305.42 L3123.32 305.05 L3123.53 304.79 L3123.77 304.61 L3124.02 304.48 L3124.27 304.38 L3124.54 304.31 L3124.80 304.25 L3125.07 304.21 L3125.34 304.17 L3125.61 304.15 L3125.88 304.13 L3126.16 304.11 L3126.43 304.10 L3126.70 304.10 L3126.97 304.10 L3127.24 304.11 L3127.52 304.13 L3127.79 304.15 L3128.06 304.17 L3128.33 304.21 L3128.60 304.25 L3128.86 304.31 L3129.13 304.38 L3129.38 304.48 L3129.63 304.61 L3129.87 304.79 L3130.08 305.05 L3130.26 305.42 L3130.39 305.91 L3130.48 306.51 L3130.53 307.16 L3130.58 307.77 L3130.63 308.27 L3130.72 308.65 L3130.84 308.93 L3130.97 309.13 L3131.12 309.28 L3131.28 309.40 L3131.45 309.51 L3131.62 309.61 L3131.79 309.71 L3131.96 309.81 L3132.13 309.90 L3132.30 310.00 L3132.47 310.10 L3132.64 310.20 L3132.81 310.30 L3132.98 310.39 L3133.15 310.49 L3133.33 310.58 L3133.51 310.66 L3133.72 310.71 L3133.96 310.73 L3134.26 310.69 L3134.63 310.58 L3135.09 310.38 L3135.64 310.11 L3136.23 309.83 L3136.79 309.61 L3137.28 309.48 L3137.69 309.45 L3138.03 309.50 L3138.30 309.61 L3138.54 309.76 L3138.75 309.94 L3138.95 310.13 L3139.13 310.33 L3139.30 310.54 L3139.47 310.76 L3139.63 310.98 L3139.78 311.21 L3139.93 311.43 L3140.07 311.67 L3140.21 311.90 L3140.34 312.14 L3140.47 312.38 L3140.60 312.62 L3140.71 312.86 L3140.83 313.11 L3140.93 313.36 L3141.03 313.62 L3141.11 313.88 L3141.18 314.14 L3141.23 314.41 L3141.24 314.69 L3141.19 314.99 L3141.07 315.31 L3140.84 315.64 L3140.49 316.01 L3140.01 316.38 L3139.48 316.75 L3138.97 317.09 L3138.56 317.39 L3138.28 317.66 L3138.10 317.89 L3137.99 318.11 L3137.94 318.32 L3137.91 318.52 L3137.90 318.72 L3137.90 318.92 L3137.90 319.11 L3137.90 319.31 L3137.90 319.50 Z"/><circle cx="3126.8" cy="319.7" r="4"/></g><g stroke="#1a1d24" stroke-width="2.8" stroke-linecap="round"><line x1="3206.5" y1="319.5" x2="3234.5" y2="319.5"/><line x1="3220.5" y1="305.5" x2="3220.5" y2="333.5"/></g><g stroke="#ffffff" stroke-width="2.8" stroke-linecap="round"><line x1="3514.0" y1="319.5" x2="3542.0" y2="319.5"/><line x1="3528.0" y1="305.5" x2="3528.0" y2="333.5"/></g></svg>
<span id="t27" class="t" style="left:3265.0px;top:303.5px;font-size:32.5px;line-height:32.5px;color:#1a1d24;font-weight:700;transform:scaleX(0.9806);transform-origin:left;">New report</span>
<span id="t28" class="t" style="left:3569.7px;top:303.5px;font-size:32.5px;line-height:32.5px;color:#ffffff;font-weight:700;transform:scaleX(0.9411);transform-origin:left;">Add panels</span>
<div class="r" style="left:706.2px;top:425.2px;width:44.6px;height:44.6px;background:#eeeeee;border-radius:50%;"></div>
<span id="t29" class="t" style="left:619.3px;top:430.3px;font-size:34.0px;line-height:34.0px;color:#2b3038;font-weight:400;transform:scaleX(1.0091);transform-origin:left;">train</span>
<span id="t30" class="t" style="left:728.5px;top:435.0px;font-size:28.5px;line-height:28.5px;color:#2b3038;font-weight:400;transform:translateX(-50%) scaleX(1.0000);transform-origin:center;">2</span>
<span id="t31" class="t" style="left:3569.7px;top:430.1px;font-size:32.5px;line-height:32.5px;color:#1a1d24;font-weight:700;transform:scaleX(0.9429);transform-origin:left;">Add panels</span>
<div class="r" style="left:838.7px;top:1237.2px;width:44.6px;height:44.6px;background:#eeeeee;border-radius:50%;"></div>
<span id="t32" class="t" style="left:619.3px;top:1242.6px;font-size:34.0px;line-height:34.0px;color:#2b3038;font-weight:400;transform:scaleX(0.9524);transform-origin:left;">Panel Section</span>
<span id="t33" class="t" style="left:861.0px;top:1247.3px;font-size:28.5px;line-height:28.5px;color:#2b3038;font-weight:400;transform:translateX(-50%) scaleX(1.0000);transform-origin:center;">1</span>
<span id="t34" class="t" style="left:3569.7px;top:1242.4px;font-size:32.5px;line-height:32.5px;color:#1a1d24;font-weight:700;transform:scaleX(0.9429);transform-origin:left;">Add panels</span>
<svg class="r" style="left:0;top:0" width="3822" height="2842" viewBox="0 0 3822 2842"><polyline points="581.2,444.3 591,454.9 600.8,444.3" fill="none" stroke="#a3a7ab" stroke-width="2.3" stroke-linecap="round" stroke-linejoin="round"/><g fill="none" stroke="#1a1d24" stroke-width="2.4"><circle cx="3166.0" cy="445.7" r="3.15"/><circle cx="3177.6" cy="445.7" r="3.15"/><circle cx="3189.2" cy="445.7" r="3.15"/></g><g fill="none" stroke="#1a1d24" stroke-width="2.5" stroke-linecap="round" stroke-linejoin="round"><polygon points="3245.3,442.2 3258.7,430.3 3260.9,441.5 3272.1,443.2 3259.4,455.9 3256.6,443.7"/><line x1="3265.8" y1="449.6" x2="3273.1" y2="458.5"/></g><text x="3350.8" y="450.1" text-anchor="middle" font-family="Liberation Serif" font-style="italic" font-weight="700" font-size="34" fill="#1a1d24">x</text><g fill="none" stroke="#1a1d24" stroke-width="2.6" stroke-linecap="round" stroke-linejoin="round"><line x1="3335.8" y1="457.3" x2="3364.8" y2="457.3"/><polyline points="3360.3,452.8 3365.0,457.3 3360.3,461.8"/></g><g fill="none" stroke="#1a1d24" stroke-width="2.6" stroke-linecap="round" stroke-linejoin="round"><rect x="3436.4" y="431.5" width="11.5" height="6" rx="3"/><path d="M3447.9 434.5 C3451.6 434.5 3453.6 436.2 3453.6 440.2 L3453.6 457.0 C3453.6 458.5 3452.6 459.4 3451.1 459.4 L3424.6 459.4 C3422.8 459.4 3421.9 458.4 3422.2 456.7 C3423.6 447.7 3430.6 442.2 3439.6 442.2 L3453.6 442.2"/><line x1="3422.6" y1="453.8" x2="3453.6" y2="453.8"/></g><circle cx="3443.2" cy="447.6" r="1.7" fill="#1a1d24"/><circle cx="3448.0" cy="447.6" r="1.7" fill="#1a1d24"/><g stroke="#1a1d24" stroke-width="2.8" stroke-linecap="round"><line x1="3513.7" y1="447.5" x2="3541.7" y2="447.5"/><line x1="3527.7" y1="433.5" x2="3527.7" y2="461.5"/></g><polyline points="581.2,1256.3 591,1266.9 600.8,1256.3" fill="none" stroke="#a3a7ab" stroke-width="2.3" stroke-linecap="round" stroke-linejoin="round"/><g fill="none" stroke="#1a1d24" stroke-width="2.4"><circle cx="3166.0" cy="1257.7" r="3.15"/><circle cx="3177.6" cy="1257.7" r="3.15"/><circle cx="3189.2" cy="1257.7" r="3.15"/></g><g fill="none" stroke="#1a1d24" stroke-width="2.5" stroke-linecap="round" stroke-linejoin="round"><polygon points="3245.3,1254.2 3258.7,1242.3 3260.9,1253.5 3272.1,1255.2 3259.4,1267.9 3256.6,1255.7"/><line x1="3265.8" y1="1261.6" x2="3273.1" y2="1270.5"/></g><text x="3350.8" y="1262.1" text-anchor="middle" font-family="Liberation Serif" font-style="italic" font-weight="700" font-size="34" fill="#1a1d24">x</text><g fill="none" stroke="#1a1d24" stroke-width="2.6" stroke-linecap="round" stroke-linejoin="round"><line x1="3335.8" y1="1269.3" x2="3364.8" y2="1269.3"/><polyline points="3360.3,1264.8 3365.0,1269.3 3360.3,1273.8"/></g><g fill="none" stroke="#1a1d24" stroke-width="2.6" stroke-linecap="round" stroke-linejoin="round"><rect x="3436.4" y="1243.5" width="11.5" height="6" rx="3"/><path d="M3447.9 1246.5 C3451.6 1246.5 3453.6 1248.2 3453.6 1252.2 L3453.6 1269.0 C3453.6 1270.5 3452.6 1271.4 3451.1 1271.4 L3424.6 1271.4 C3422.8 1271.4 3421.9 1270.4 3422.2 1268.7 C3423.6 1259.7 3430.6 1254.2 3439.6 1254.2 L3453.6 1254.2"/><line x1="3422.6" y1="1265.8" x2="3453.6" y2="1265.8"/></g><circle cx="3443.2" cy="1259.6" r="1.7" fill="#1a1d24"/><circle cx="3448.0" cy="1259.6" r="1.7" fill="#1a1d24"/><g stroke="#1a1d24" stroke-width="2.8" stroke-linecap="round"><line x1="3513.7" y1="1259.5" x2="3541.7" y2="1259.5"/><line x1="3527.7" y1="1245.5" x2="3527.7" y2="1273.5"/></g></svg>
<div class="r" style="left:619.4px;top:534.0px;width:1019.5px;height:597.0px;background:#ffffff;border-radius:5.0px;border:2px solid #cbcccf;box-sizing:border-box;"></div>
<div class="r" style="left:2733.2px;top:534.2px;width:1019.3px;height:595.4px;background:#ffffff;border-radius:5.0px;border:2px solid #cbcccf;box-sizing:border-box;"></div>
<div class="r" style="left:619.4px;top:1309.5px;width:1019.0px;height:658.0px;background:#ffffff;border-radius:5.0px;border:2px solid #cbcccf;box-sizing:border-box;"></div>
<span id="t35" class="t" style="left:665.8px;top:604.5px;font-size:28.0px;line-height:28.0px;color:#2b3038;font-weight:700;transform:scaleX(1.0090);transform-origin:left;">Parameter importance with respect to</span>
<div class="r" style="left:665.0px;top:638.1px;width:438.2px;height:48.0px;background:#ffffff;border-radius:7.0px;border:2px solid #d0d2d5;box-sizing:border-box;"></div>
<span id="t36" class="t" style="left:750.1px;top:646.2px;font-size:34.0px;line-height:34.0px;color:#2b3038;font-weight:400;transform:scaleX(1.0525);transform-origin:left;">_wandb.runtime</span>
<span id="t37" class="t" style="left:680.0px;top:747.5px;font-size:27.0px;line-height:27.0px;color:#a0a3a8;font-weight:400;transform:scaleX(0.9279);transform-origin:left;">Search</span>
<div class="r" style="left:1007.8px;top:722.7px;width:334.7px;height:72.5px;background:#f1f1f1;border-radius:8.0px;border:2px solid #cfd1d4;box-sizing:border-box;"></div>
<div class="r" style="left:1269.0px;top:724.0px;width:2.0px;height:70.0px;background:#cfd1d4;border-radius:0.0px;"></div>
<span id="t38" class="t" style="left:1098.0px;top:745.8px;font-size:29.0px;line-height:29.0px;color:#2b3038;font-weight:400;transform:scaleX(0.9653);transform-origin:left;">Parameters</span>
<span id="t39" class="t" style="left:1386.6px;top:745.8px;font-size:28.0px;line-height:28.0px;color:#2b3038;font-weight:400;transform:scaleX(0.8650);transform-origin:left;">1-9</span>
<span id="t40" class="t" style="left:1470.3px;top:745.8px;font-size:28.0px;line-height:28.0px;color:#2b3038;font-weight:400;transform:scaleX(0.8957);transform-origin:left;">of 9</span>
<div class="r" style="left:635.7px;top:815.0px;width:985.3px;height:2.0px;background:#e3e4e6;border-radius:0.0px;"></div>
<div class="r" style="left:635.7px;top:817.0px;width:985.3px;height:26.0px;background:#fafafa;border-radius:0.0px;"></div>
<div class="r" style="left:641.8px;top:823.3px;width:871.5px;height:15.0px;background:#b4b5b7;border-radius:7.5px;"></div>
<div class="r" style="left:635.7px;top:843.0px;width:985.3px;height:74.0px;background:#f5f5f6;border-radius:0.0px;"></div>
<span id="t41" class="t" style="left:670.0px;top:866.1px;font-size:28.0px;line-height:28.0px;color:#3f464f;font-weight:400;transform:scaleX(0.9676);transform-origin:left;">Config parameter</span>
<span id="t42" class="t" style="left:997.5px;top:866.1px;font-size:28.0px;line-height:28.0px;color:#2b3038;font-weight:700;transform:scaleX(0.9457);transform-origin:left;">Importance</span>
<span id="t43" class="t" style="left:1326.0px;top:866.1px;font-size:28.0px;line-height:28.0px;color:#3f464f;font-weight:400;transform:scaleX(0.9927);transform-origin:left;">Correlation</span>
<div class="r" style="left:635.7px;top:917.0px;width:956.0px;height:85.0px;background:#ffffff;border-radius:0.0px;"></div>
<div class="r" style="left:635.7px;top:1001.5px;width:956.0px;height:1.5px;background:#e6e7e9;border-radius:0.0px;"></div>
<span id="t44" class="t" style="left:670.0px;top:941.9px;font-size:33.5px;line-height:33.5px;color:#1a1d24;font-weight:400;">Runtime</span>
<span id="t45" class="t" style="left:670.0px;top:1026.1px;font-size:33.5px;line-height:33.5px;color:#1a1d24;font-weight:400;transform:scaleX(1.0116);transform-origin:left;">model_type.val…</span>
<div class="r" style="left:987.3px;top:931.9px;width:274.2px;height:31.8px;background:#edf1f9;border-radius:8.0px;"></div>
<div class="r" style="left:987.3px;top:931.9px;width:206.4px;height:31.8px;background:#2a67c0;border-radius:8px 0 0 8px;"></div>
<div class="r" style="left:1306.0px;top:931.9px;width:273.8px;height:31.8px;background:#f1f2f4;border-radius:8.0px;"></div>
<div class="r" style="left:1306.0px;top:931.9px;width:192.8px;height:31.8px;background:#10ab94;border-radius:8px 0 0 8px;"></div>
<div class="r" style="left:987.3px;top:1018.5px;width:274.2px;height:31.8px;background:#edf1f9;border-radius:8.0px;"></div>
<div class="r" style="left:987.3px;top:1018.5px;width:35.5px;height:31.8px;background:#2a67c0;border-radius:8px 0 0 8px;"></div>
<div class="r" style="left:1306.0px;top:1018.5px;width:273.8px;height:31.8px;background:#f1f2f4;border-radius:8.0px;"></div>
<div class="r" style="left:1306.0px;top:1018.5px;width:192.8px;height:31.8px;background:#10ab94;border-radius:8px 0 0 8px;"></div>
<div class="r" style="left:1591.5px;top:917.0px;width:1.5px;height:164.0px;background:#e6e7e9;border-radius:0.0px;"></div>
<div class="r" style="left:1600.0px;top:918.0px;width:15.0px;height:33.0px;background:#b4b5b7;border-radius:7.5px;"></div>
<svg class="r" style="left:0;top:0" width="3822" height="2842" viewBox="0 0 3822 2842"><g stroke="#9ea3a8" stroke-width="2.2"><line x1="700.5" y1="665.5" x2="700.5" y2="676.5"/><line x1="709" y1="654" x2="709" y2="676.5"/><line x1="717.3" y1="656.5" x2="717.3" y2="676.5"/><line x1="725.8" y1="645.5" x2="725.8" y2="676.5"/></g><polyline points="1059.5,658.5 1067.5,666.5 1075.5,658.5" fill="none" stroke="#1a1d24" stroke-width="2.4" stroke-linecap="round" stroke-linejoin="round"/><g fill="none" stroke="#4a4f55" stroke-width="2.3" stroke-linejoin="round"><path d="M1078.50 759.40 L1078.48 759.78 L1078.43 760.16 L1078.32 760.54 L1078.15 760.91 L1077.87 761.26 L1077.44 761.59 L1076.81 761.88 L1075.98 762.12 L1075.01 762.32 L1074.04 762.47 L1073.20 762.63 L1072.56 762.79 L1072.10 762.98 L1071.77 763.18 L1071.54 763.40 L1071.36 763.63 L1071.22 763.87 L1071.10 764.11 L1070.99 764.35 L1070.89 764.60 L1070.79 764.85 L1070.69 765.09 L1070.59 765.34 L1070.49 765.58 L1070.38 765.83 L1070.28 766.07 L1070.18 766.32 L1070.10 766.58 L1070.03 766.84 L1069.99 767.13 L1070.00 767.45 L1070.09 767.83 L1070.29 768.29 L1070.62 768.86 L1071.10 769.56 L1071.68 770.35 L1072.23 771.18 L1072.65 771.94 L1072.89 772.59 L1072.96 773.12 L1072.90 773.57 L1072.77 773.96 L1072.57 774.30 L1072.34 774.60 L1072.09 774.89 L1071.80 775.14 L1071.50 775.37 L1071.16 775.57 L1070.77 775.70 L1070.32 775.76 L1069.79 775.69 L1069.14 775.45 L1068.38 775.03 L1067.55 774.48 L1066.76 773.90 L1066.06 773.42 L1065.49 773.09 L1065.03 772.89 L1064.65 772.80 L1064.33 772.79 L1064.04 772.83 L1063.78 772.90 L1063.52 772.98 L1063.27 773.08 L1063.03 773.18 L1062.78 773.29 L1062.54 773.39 L1062.29 773.49 L1062.05 773.59 L1061.80 773.69 L1061.55 773.79 L1061.31 773.90 L1061.07 774.02 L1060.83 774.16 L1060.60 774.34 L1060.38 774.57 L1060.18 774.90 L1059.99 775.36 L1059.83 776.00 L1059.67 776.84 L1059.52 777.81 L1059.32 778.78 L1059.08 779.61 L1058.79 780.24 L1058.46 780.67 L1058.11 780.95 L1057.74 781.12 L1057.36 781.23 L1056.98 781.28 L1056.60 781.30 L1056.22 781.28 L1055.84 781.23 L1055.46 781.12 L1055.09 780.95 L1054.74 780.67 L1054.41 780.24 L1054.12 779.61 L1053.88 778.78 L1053.68 777.81 L1053.53 776.84 L1053.37 776.00 L1053.21 775.36 L1053.02 774.90 L1052.82 774.57 L1052.60 774.34 L1052.37 774.16 L1052.13 774.02 L1051.89 773.90 L1051.65 773.79 L1051.40 773.69 L1051.15 773.59 L1050.91 773.49 L1050.66 773.39 L1050.42 773.29 L1050.17 773.18 L1049.93 773.08 L1049.68 772.98 L1049.42 772.90 L1049.16 772.83 L1048.87 772.79 L1048.55 772.80 L1048.17 772.89 L1047.71 773.09 L1047.14 773.42 L1046.44 773.90 L1045.65 774.48 L1044.82 775.03 L1044.06 775.45 L1043.41 775.69 L1042.88 775.76 L1042.43 775.70 L1042.04 775.57 L1041.70 775.37 L1041.40 775.14 L1041.11 774.89 L1040.86 774.60 L1040.63 774.30 L1040.43 773.96 L1040.30 773.57 L1040.24 773.12 L1040.31 772.59 L1040.55 771.94 L1040.97 771.18 L1041.52 770.35 L1042.10 769.56 L1042.58 768.86 L1042.91 768.29 L1043.11 767.83 L1043.20 767.45 L1043.21 767.13 L1043.17 766.84 L1043.10 766.58 L1043.02 766.32 L1042.92 766.07 L1042.82 765.83 L1042.71 765.58 L1042.61 765.34 L1042.51 765.09 L1042.41 764.85 L1042.31 764.60 L1042.21 764.35 L1042.10 764.11 L1041.98 763.87 L1041.84 763.63 L1041.66 763.40 L1041.43 763.18 L1041.10 762.98 L1040.64 762.79 L1040.00 762.63 L1039.16 762.47 L1038.19 762.32 L1037.22 762.12 L1036.39 761.88 L1035.76 761.59 L1035.33 761.26 L1035.05 760.91 L1034.88 760.54 L1034.77 760.16 L1034.72 759.78 L1034.70 759.40 L1034.72 759.02 L1034.77 758.64 L1034.88 758.26 L1035.05 757.89 L1035.33 757.54 L1035.76 757.21 L1036.39 756.92 L1037.22 756.68 L1038.19 756.48 L1039.16 756.33 L1040.00 756.17 L1040.64 756.01 L1041.10 755.82 L1041.43 755.62 L1041.66 755.40 L1041.84 755.17 L1041.98 754.93 L1042.10 754.69 L1042.21 754.45 L1042.31 754.20 L1042.41 753.95 L1042.51 753.71 L1042.61 753.46 L1042.71 753.22 L1042.82 752.97 L1042.92 752.73 L1043.02 752.48 L1043.10 752.22 L1043.17 751.96 L1043.21 751.67 L1043.20 751.35 L1043.11 750.97 L1042.91 750.51 L1042.58 749.94 L1042.10 749.24 L1041.52 748.45 L1040.97 747.62 L1040.55 746.86 L1040.31 746.21 L1040.24 745.68 L1040.30 745.23 L1040.43 744.84 L1040.63 744.50 L1040.86 744.20 L1041.11 743.91 L1041.40 743.66 L1041.70 743.43 L1042.04 743.23 L1042.43 743.10 L1042.88 743.04 L1043.41 743.11 L1044.06 743.35 L1044.82 743.77 L1045.65 744.32 L1046.44 744.90 L1047.14 745.38 L1047.71 745.71 L1048.17 745.91 L1048.55 746.00 L1048.87 746.01 L1049.16 745.97 L1049.42 745.90 L1049.68 745.82 L1049.93 745.72 L1050.17 745.62 L1050.42 745.51 L1050.66 745.41 L1050.91 745.31 L1051.15 745.21 L1051.40 745.11 L1051.65 745.01 L1051.89 744.90 L1052.13 744.78 L1052.37 744.64 L1052.60 744.46 L1052.82 744.23 L1053.02 743.90 L1053.21 743.44 L1053.37 742.80 L1053.53 741.96 L1053.68 740.99 L1053.88 740.02 L1054.12 739.19 L1054.41 738.56 L1054.74 738.13 L1055.09 737.85 L1055.46 737.68 L1055.84 737.57 L1056.22 737.52 L1056.60 737.50 L1056.98 737.52 L1057.36 737.57 L1057.74 737.68 L1058.11 737.85 L1058.46 738.13 L1058.79 738.56 L1059.08 739.19 L1059.32 740.02 L1059.52 740.99 L1059.67 741.96 L1059.83 742.80 L1059.99 743.44 L1060.18 743.90 L1060.38 744.23 L1060.60 744.46 L1060.83 744.64 L1061.07 744.78 L1061.31 744.90 L1061.55 745.01 L1061.80 745.11 L1062.05 745.21 L1062.29 745.31 L1062.54 745.41 L1062.78 745.51 L1063.03 745.62 L1063.27 745.72 L1063.52 745.82 L1063.78 745.90 L1064.04 745.97 L1064.33 746.01 L1064.65 746.00 L1065.03 745.91 L1065.49 745.71 L1066.06 745.38 L1066.76 744.90 L1067.55 744.32 L1068.38 743.77 L1069.14 743.35 L1069.79 743.11 L1070.32 743.04 L1070.77 743.10 L1071.16 743.23 L1071.50 743.43 L1071.80 743.66 L1072.09 743.91 L1072.34 744.20 L1072.57 744.50 L1072.77 744.84 L1072.90 745.23 L1072.96 745.68 L1072.89 746.21 L1072.65 746.86 L1072.23 747.62 L1071.68 748.45 L1071.10 749.24 L1070.62 749.94 L1070.29 750.51 L1070.09 750.97 L1070.00 751.35 L1069.99 751.67 L1070.03 751.96 L1070.10 752.22 L1070.18 752.48 L1070.28 752.73 L1070.38 752.97 L1070.49 753.22 L1070.59 753.46 L1070.69 753.71 L1070.79 753.95 L1070.89 754.20 L1070.99 754.45 L1071.10 754.69 L1071.22 754.93 L1071.36 755.17 L1071.54 755.40 L1071.77 755.62 L1072.10 755.82 L1072.56 756.01 L1073.20 756.17 L1074.04 756.33 L1075.01 756.48 L1075.98 756.68 L1076.81 756.92 L1077.44 757.21 L1077.87 757.54 L1078.15 757.89 L1078.32 758.26 L1078.43 758.64 L1078.48 759.02 Z"/><circle cx="1056.6" cy="759.4" r="5.4"/></g><g fill="none" stroke="#4a4f55" stroke-width="2.2" stroke-linecap="round" stroke-linejoin="round"><line x1="1289" y1="776" x2="1307.5" y2="757.5"/><polygon points="1311.02,739.14 1316.85,744.83 1324.81,743.08 1321.20,750.39 1325.32,757.41 1317.26,756.24 1311.85,762.33 1310.48,754.30 1303.01,751.04 1310.22,747.25"/></g><g fill="#4a4f55"><polygon points="1288.00,750.30 1289.37,753.53 1292.60,754.90 1289.37,756.27 1288.00,759.50 1286.63,756.27 1283.40,754.90 1286.63,753.53"/><polygon points="1296.00,737.00 1296.89,739.11 1299.00,740.00 1296.89,740.89 1296.00,743.00 1295.11,740.89 1293.00,740.00 1295.11,739.11"/><polygon points="1320.00,770.20 1321.07,772.73 1323.60,773.80 1321.07,774.87 1320.00,777.40 1318.93,774.87 1316.40,773.80 1318.93,772.73"/></g><polygon points="1428.5,757.8 1443,757.8 1435.75,765.3" fill="#2b3038"/><polyline points="1606.5,748.3 1594.2,759.7 1606.5,771.2" fill="none" stroke="#c6c8cb" stroke-width="2.3" stroke-linecap="round" stroke-linejoin="round"/><g fill="none" stroke="#2b3038" stroke-width="2"><circle cx="1167" cy="881.3" r="10.5"/></g><text x="1163.5" y="888.5" font-family="Liberation Serif" font-style="italic" font-size="19" fill="#2b3038">i</text><g fill="none" stroke="#2b3038" stroke-width="2.8" stroke-linecap="round" stroke-linejoin="round"><line x1="1206.8" y1="870.5" x2="1206.8" y2="888.5"/><polyline points="1200.5,882.5 1206.8,889 1213,882.5"/></g></svg>
<span id="t46" class="t" style="left:3242.6px;top:597.9px;font-size:28.0px;line-height:28.0px;color:#2b3038;font-weight:700;transform:translateX(-50%) scaleX(1.0241);transform-origin:center;">train/epoch_ndx</span>
<span id="t47" class="t" style="left:2808.6px;top:712.1px;font-size:23.5px;line-height:23.5px;color:#6b7480;font-weight:400;transform:translateX(-100%) scaleX(0.9949);transform-origin:right;">800</span>
<span id="t48" class="t" style="left:2808.6px;top:798.1px;font-size:23.5px;line-height:23.5px;color:#6b7480;font-weight:400;transform:translateX(-100%) scaleX(0.9949);transform-origin:right;">600</span>
<span id="t49" class="t" style="left:2808.6px;top:885.0px;font-size:23.5px;line-height:23.5px;color:#6b7480;font-weight:400;transform:translateX(-100%) scaleX(0.9949);transform-origin:right;">400</span>
<span id="t50" class="t" style="left:2808.6px;top:971.5px;font-size:23.5px;line-height:23.5px;color:#6b7480;font-weight:400;transform:translateX(-100%) scaleX(0.9949);transform-origin:right;">200</span>
<span id="t51" class="t" style="left:2840.5px;top:1079.0px;font-size:23.5px;line-height:23.5px;color:#6b7480;font-weight:400;transform:translateX(-50%) scaleX(1.0000);transform-origin:center;">0</span>
<span id="t52" class="t" style="left:3008.3px;top:1079.0px;font-size:23.5px;line-height:23.5px;color:#6b7480;font-weight:400;transform:translateX(-50%) scaleX(1.0000);transform-origin:center;">200</span>
<span id="t53" class="t" style="left:3177.4px;top:1079.0px;font-size:23.5px;line-height:23.5px;color:#6b7480;font-weight:400;transform:translateX(-50%) scaleX(1.0000);transform-origin:center;">400</span>
<span id="t54" class="t" style="left:3346.6px;top:1079.0px;font-size:23.5px;line-height:23.5px;color:#6b7480;font-weight:400;transform:translateX(-50%) scaleX(1.0000);transform-origin:center;">600</span>
<span id="t55" class="t" style="left:3515.3px;top:1079.0px;font-size:23.5px;line-height:23.5px;color:#6b7480;font-weight:400;transform:translateX(-50%) scaleX(1.0000);transform-origin:center;">800</span>
<span id="t56" class="t" style="left:3684.0px;top:1079.0px;font-size:23.5px;line-height:23.5px;color:#6b7480;font-weight:400;transform:translateX(-50%) scaleX(1.0000);transform-origin:center;">1k</span>
<span id="t57" class="t" style="left:3621.6px;top:1015.6px;font-size:23.5px;line-height:23.5px;color:#6b7480;font-weight:400;transform:scaleX(1.0042);transform-origin:left;">Step</span>
<svg class="r" style="left:0;top:0" width="3822" height="2842" viewBox="0 0 3822 2842"><line x1="2842" y1="723.7" x2="3684" y2="723.7" stroke="#ececec" stroke-width="1.5"/><line x1="2826" y1="723.7" x2="2842" y2="723.7" stroke="#d8d8d8" stroke-width="1.5"/><line x1="2842" y1="809.7" x2="3684" y2="809.7" stroke="#ececec" stroke-width="1.5"/><line x1="2826" y1="809.7" x2="2842" y2="809.7" stroke="#d8d8d8" stroke-width="1.5"/><line x1="2842" y1="896.6" x2="3684" y2="896.6" stroke="#ececec" stroke-width="1.5"/><line x1="2826" y1="896.6" x2="2842" y2="896.6" stroke="#d8d8d8" stroke-width="1.5"/><line x1="2842" y1="983.1" x2="3684" y2="983.1" stroke="#ececec" stroke-width="1.5"/><line x1="2826" y1="983.1" x2="2842" y2="983.1" stroke="#d8d8d8" stroke-width="1.5"/><line x1="2840.5" y1="659.5" x2="2840.5" y2="1048.5" stroke="#e1e1e1" stroke-width="3.5"/><line x1="2840.5" y1="1048.3" x2="3684" y2="1048.3" stroke="#e1e1e1" stroke-width="3.5"/><line x1="2840.5" y1="1069.2" x2="3684" y2="1069.2" stroke="#e1e1e1" stroke-width="3.5"/><line x1="2840.5" y1="1035" x2="2840.5" y2="1061" stroke="#e1e1e1" stroke-width="3"/><line x1="3008.3" y1="1035" x2="3008.3" y2="1061" stroke="#e1e1e1" stroke-width="3"/><line x1="3177.4" y1="1035" x2="3177.4" y2="1061" stroke="#e1e1e1" stroke-width="3"/><line x1="3346.6" y1="1035" x2="3346.6" y2="1061" stroke="#e1e1e1" stroke-width="3"/><line x1="3515.3" y1="1035" x2="3515.3" y2="1061" stroke="#e1e1e1" stroke-width="3"/><line x1="3684.0" y1="1035" x2="3684.0" y2="1061" stroke="#e1e1e1" stroke-width="3"/><line x1="2880.7" y1="1048.3" x2="3645.2" y2="658.5" stroke="#3e8f51" stroke-width="2.9"/></svg>
<span id="t58" class="t" style="left:1128.6px;top:1375.3px;font-size:27.0px;line-height:27.0px;color:#2b3038;font-weight:700;transform:translateX(-50%) scaleX(0.9919);transform-origin:center;">Process CPU Threads In Use</span>
<span id="t59" class="t" style="left:726.4px;top:1448.1px;font-size:25.5px;line-height:25.5px;color:#565c66;font-weight:400;transform:scaleX(1.0217);transform-origin:left;">colorful-yogurt-9</span>
<div class="r" style="left:725.3px;top:1478.6px;width:806.5px;height:10.5px;background:#e8ae33;border-radius:0.0px;"></div>
<span id="t60" class="t" style="left:726.4px;top:1505.4px;font-size:25.5px;line-height:25.5px;color:#565c66;font-weight:400;transform:scaleX(0.9951);transform-origin:left;">glowing-shadow-8</span>
<div class="r" style="left:725.3px;top:1535.9px;width:806.5px;height:10.5px;background:#c15ac3;border-radius:0.0px;"></div>
<span id="t61" class="t" style="left:726.4px;top:1562.6px;font-size:25.5px;line-height:25.5px;color:#565c66;font-weight:400;transform:scaleX(0.9939);transform-origin:left;">wild-cosmos-7</span>
<div class="r" style="left:725.3px;top:1593.1px;width:516.1px;height:10.5px;background:#76c9b9;border-radius:0.0px;"></div>
<span id="t62" class="t" style="left:726.4px;top:1619.9px;font-size:25.5px;line-height:25.5px;color:#565c66;font-weight:400;">fallen-dawn-6</span>
<div class="r" style="left:725.3px;top:1650.4px;width:483.9px;height:10.5px;background:#e06631;border-radius:0.0px;"></div>
<span id="t63" class="t" style="left:726.4px;top:1677.1px;font-size:25.5px;line-height:25.5px;color:#565c66;font-weight:400;transform:scaleX(1.0328);transform-origin:left;">trim-moon-4</span>
<div class="r" style="left:725.3px;top:1707.6px;width:806.5px;height:10.5px;background:#6f49a9;border-radius:0.0px;"></div>
<span id="t64" class="t" style="left:726.4px;top:1734.4px;font-size:25.5px;line-height:25.5px;color:#565c66;font-weight:400;transform:scaleX(0.9781);transform-origin:left;">golden-sunset-3</span>
<div class="r" style="left:725.3px;top:1764.9px;width:806.5px;height:10.5px;background:#3e8e50;border-radius:0.0px;"></div>
<span id="t65" class="t" style="left:726.4px;top:1791.6px;font-size:25.5px;line-height:25.5px;color:#565c66;font-weight:400;transform:scaleX(1.0259);transform-origin:left;">trim-rain-2</span>
<div class="r" style="left:725.3px;top:1822.1px;width:516.1px;height:10.5px;background:#d54141;border-radius:0.0px;"></div>
<span id="t66" class="t" style="left:718.8px;top:1911.5px;font-size:24.0px;line-height:24.0px;color:#6b7480;font-weight:400;transform:translateX(-50%) scaleX(1.0000);transform-origin:center;">0</span>
<span id="t67" class="t" style="left:783.3px;top:1911.5px;font-size:24.0px;line-height:24.0px;color:#6b7480;font-weight:400;transform:translateX(-50%) scaleX(1.0000);transform-origin:center;">2</span>
<span id="t68" class="t" style="left:847.8px;top:1911.5px;font-size:24.0px;line-height:24.0px;color:#6b7480;font-weight:400;transform:translateX(-50%) scaleX(1.0000);transform-origin:center;">4</span>
<span id="t69" class="t" style="left:912.3px;top:1911.5px;font-size:24.0px;line-height:24.0px;color:#6b7480;font-weight:400;transform:translateX(-50%) scaleX(1.0000);transform-origin:center;">6</span>
<span id="t70" class="t" style="left:976.9px;top:1911.5px;font-size:24.0px;line-height:24.0px;color:#6b7480;font-weight:400;transform:translateX(-50%) scaleX(1.0000);transform-origin:center;">8</span>
<span id="t71" class="t" style="left:1041.4px;top:1911.5px;font-size:24.0px;line-height:24.0px;color:#6b7480;font-weight:400;transform:translateX(-50%) scaleX(1.0000);transform-origin:center;">10</span>
<span id="t72" class="t" style="left:1105.9px;top:1911.5px;font-size:24.0px;line-height:24.0px;color:#6b7480;font-weight:400;transform:translateX(-50%) scaleX(1.0000);transform-origin:center;">12</span>
<span id="t73" class="t" style="left:1170.4px;top:1911.5px;font-size:24.0px;line-height:24.0px;color:#6b7480;font-weight:400;transform:translateX(-50%) scaleX(1.0000);transform-origin:center;">14</span>
<span id="t74" class="t" style="left:1234.9px;top:1911.5px;font-size:24.0px;line-height:24.0px;color:#6b7480;font-weight:400;transform:translateX(-50%) scaleX(1.0000);transform-origin:center;">16</span>
<span id="t75" class="t" style="left:1299.4px;top:1911.5px;font-size:24.0px;line-height:24.0px;color:#6b7480;font-weight:400;transform:translateX(-50%) scaleX(1.0000);transform-origin:center;">18</span>
<span id="t76" class="t" style="left:1364.0px;top:1911.5px;font-size:24.0px;line-height:24.0px;color:#6b7480;font-weight:400;transform:translateX(-50%) scaleX(1.0000);transform-origin:center;">20</span>
<span id="t77" class="t" style="left:1428.5px;top:1911.5px;font-size:24.0px;line-height:24.0px;color:#6b7480;font-weight:400;transform:translateX(-50%) scaleX(1.0000);transform-origin:center;">22</span>
<span id="t78" class="t" style="left:1493.0px;top:1911.5px;font-size:24.0px;line-height:24.0px;color:#6b7480;font-weight:400;transform:translateX(-50%) scaleX(1.0000);transform-origin:center;">24</span>
<svg class="r" style="left:0;top:0" width="3822" height="2842" viewBox="0 0 3822 2842"><line x1="725.3" y1="1884.8" x2="1531" y2="1884.8" stroke="#b5b7ba" stroke-width="2"/><line x1="725.3" y1="1884.8" x2="725.3" y2="1903" stroke="#b5b7ba" stroke-width="1.6"/><line x1="789.8" y1="1884.8" x2="789.8" y2="1903" stroke="#b5b7ba" stroke-width="1.6"/><line x1="854.3" y1="1884.8" x2="854.3" y2="1903" stroke="#b5b7ba" stroke-width="1.6"/><line x1="918.8" y1="1884.8" x2="918.8" y2="1903" stroke="#b5b7ba" stroke-width="1.6"/><line x1="983.4" y1="1884.8" x2="983.4" y2="1903" stroke="#b5b7ba" stroke-width="1.6"/><line x1="1047.9" y1="1884.8" x2="1047.9" y2="1903" stroke="#b5b7ba" stroke-width="1.6"/><line x1="1112.4" y1="1884.8" x2="1112.4" y2="1903" stroke="#b5b7ba" stroke-width="1.6"/><line x1="1176.9" y1="1884.8" x2="1176.9" y2="1903" stroke="#b5b7ba" stroke-width="1.6"/><line x1="1241.4" y1="1884.8" x2="1241.4" y2="1903" stroke="#b5b7ba" stroke-width="1.6"/><line x1="1305.9" y1="1884.8" x2="1305.9" y2="1903" stroke="#b5b7ba" stroke-width="1.6"/><line x1="1370.5" y1="1884.8" x2="1370.5" y2="1903" stroke="#b5b7ba" stroke-width="1.6"/><line x1="1435.0" y1="1884.8" x2="1435.0" y2="1903" stroke="#b5b7ba" stroke-width="1.6"/><line x1="1499.5" y1="1884.8" x2="1499.5" y2="1903" stroke="#b5b7ba" stroke-width="1.6"/></svg>
<div class="r" style="left:3477.0px;top:2061.4px;width:280.4px;height:68.0px;background:#ebebeb;border-radius:9.0px;"></div>
<svg class="r" style="left:0;top:0" width="3822" height="2842" viewBox="0 0 3822 2842"><g stroke="#1a1d24" stroke-width="2.8" stroke-linecap="round"><line x1="3504.0" y1="2095.5" x2="3532.0" y2="2095.5"/><line x1="3518.0" y1="2081.5" x2="3518.0" y2="2109.5"/></g></svg>
<span id="t79" class="t" style="left:3559.8px;top:2079.0px;font-size:32.5px;line-height:32.5px;color:#1a1d24;font-weight:700;transform:scaleX(0.9398);transform-origin:left;">Add section</span>
<div class="r" style="left:40.0px;top:2760.0px;width:224.0px;height:41.6px;background:rgba(88,88,94,0.88);border-radius:20.8px;"></div>
<svg class="r" style="left:0;top:0" width="3822" height="2842" viewBox="0 0 3822 2842"><g fill="none" stroke="#ffffff" stroke-width="1.4" stroke-linejoin="round"><path d="M59 2768 L66 2772.5 L80 2772.5 L87 2768 L87 2781 L73 2794 L59 2781 Z"/><path d="M59 2781 L66 2772.5 L73 2786 L80 2772.5 L87 2781 M66 2781 L73 2786 L80 2781 L66 2781"/></g></svg>
<span id="t80" class="t" style="left:98.3px;top:2773.8px;font-size:15.0px;line-height:15.0px;color:#ffffff;font-weight:700;transform:scaleX(1.0276);transform-origin:left;letter-spacing:0.5px;">MADE WITH GIFOX</span>
</body></html>
